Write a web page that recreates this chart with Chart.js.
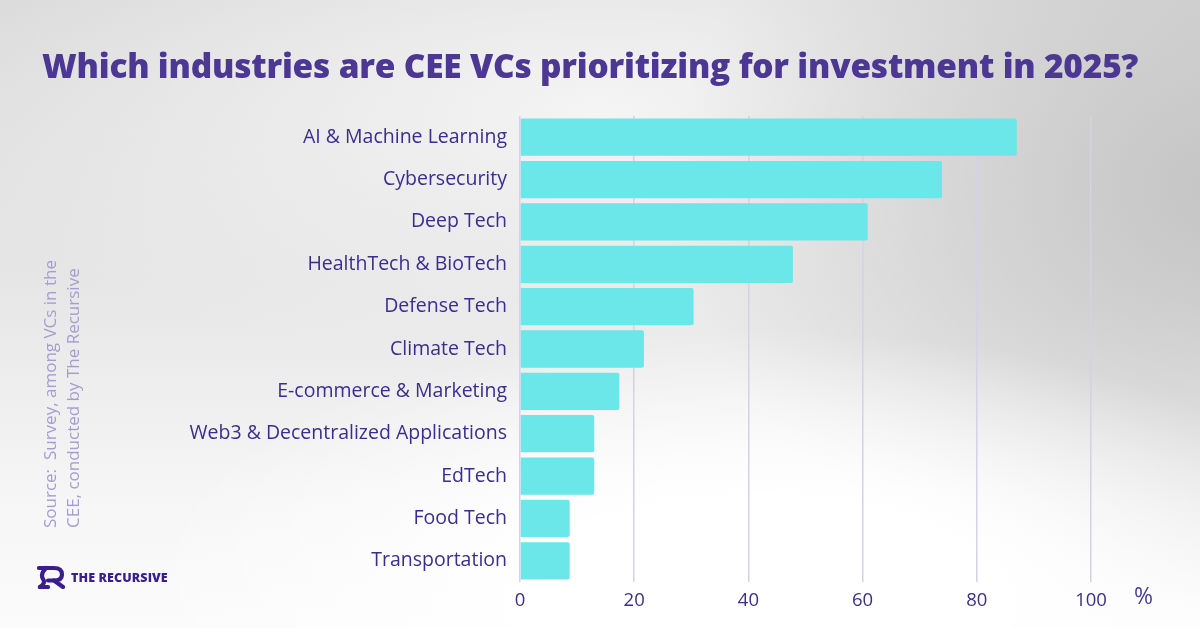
<!DOCTYPE html>
<html>
<head>
<meta charset="utf-8">
<script src="https://cdn.jsdelivr.net/npm/chart.js@4.4.1/dist/chart.umd.min.js"></script>
<style>
  html, body { margin: 0; padding: 0; }
  body {
    width: 1200px; height: 628px; overflow: hidden; position: relative;
    font-family: "Open Sans", sans-serif;
    background:
      radial-gradient(ellipse 620px 260px at 760px 590px, rgba(255,255,255,1) 35%, rgba(255,255,255,0) 100%),
      radial-gradient(ellipse 560px 420px at 1230px 190px, rgba(196,196,196,1) 0%, rgba(196,196,196,0) 100%),
      radial-gradient(ellipse 700px 260px at 600px 110px, rgba(244,244,244,1) 0%, rgba(244,244,244,0) 100%),
      linear-gradient(to bottom, #dadada 0%, #e6e6e6 45%, #f6f6f6 80%, #fbfbfb 100%);
  }
  #chart { position: absolute; left: 0; top: 0; }
  #title {
    position: absolute; left: 42px; top: 42px; white-space: nowrap;
    font-family: "Open Sans", sans-serif; font-weight: 800; font-size: 32px;
    color: #4c3893; letter-spacing: -0.2px;
  }
  #source {
    position: absolute; left: 38px; top: 528px; transform-origin: 0 0;
    transform: rotate(-90deg); white-space: nowrap;
    font-size: 17px; line-height: 23px; color: #a59dd2;
  }
  #pct {
    position: absolute; left: 1134px; top: 579px; font-size: 23px; color: #4a3b97;
  }
  #logo { position: absolute; left: 37px; top: 565px; display: flex; align-items: center; }
  #logo span {
    font-weight: 800; font-size: 12.5px; color: #3a1f8c; margin-left: 5px; letter-spacing: 0.1px;
  }
</style>
</head>
<body>
<canvas id="chart" width="1200" height="628"></canvas>
<div id="title">Which industries are CEE VCs prioritizing for investment in 2025?</div>
<div id="source">Source:&nbsp; Survey, among VCs in the<br>CEE, conducted by The Recursive</div>
<div id="pct">%</div>
<div id="logo">
  <svg width="29" height="24" viewBox="0 0 29 24">
    <path d="M2 3 H17 Q25 3 25 9.5 Q25 15.5 17 15.5 H11" fill="none" stroke="#3a1f8c" stroke-width="4.2" stroke-linecap="round" stroke-linejoin="round"/>
    <path d="M17 15.5 L26 22" fill="none" stroke="#3a1f8c" stroke-width="4.2" stroke-linecap="round"/>
    <path d="M9 3 Q3 9 6 14 Q9 18 3 22" fill="none" stroke="#3a1f8c" stroke-width="4.2" stroke-linecap="round" stroke-linejoin="round"/>
    <path d="M3 22 H11" fill="none" stroke="#3a1f8c" stroke-width="4.2" stroke-linecap="round"/>
  </svg>
  <span>THE RECURSIVE</span>
</div>
<script>
const categories = [
  "AI & Machine Learning",
  "Cybersecurity",
  "Deep Tech",
  "HealthTech & BioTech",
  "Defense Tech",
  "Climate Tech",
  "E-commerce & Marketing",
  "Web3 & Decentralized Applications",
  "EdTech",
  "Food Tech",
  "Transportation"
];
const shares = [87.0, 73.9, 60.9, 47.8, 30.4, 21.7, 17.4, 13.0, 13.0, 8.7, 8.7];
const xTicks = [0, 20, 40, 60, 80, 100];

// fit title width to the reference
(function () {
  const t = document.getElementById('title');
  const target = 1096;
  const w = t.getBoundingClientRect().width;
  t.style.fontSize = (32 * target / w).toFixed(2) + 'px';
})();

new Chart(document.getElementById('chart'), {
  type: 'bar',
  data: {
    labels: categories,
    datasets: [{
      data: shares,
      backgroundColor: '#6be6e9',
      borderRadius: 2,
      borderSkipped: 'start',
      categoryPercentage: 0.88,
      barPercentage: 1
    }]
  },
  options: {
    indexAxis: 'y',
    responsive: false,
    devicePixelRatio: 1,
    animation: false,
    layout: { padding: { top: 116, right: 109, bottom: 0, left: 0 } },
    plugins: { legend: { display: false }, tooltip: { enabled: false } },
    scales: {
      x: {
        min: 0, max: 100,
        afterBuildTicks: (s) => { s.ticks = xTicks.map(v => ({ value: v })); },
        afterFit: (s) => { s.height = 46; },
        ticks: { color: '#3d2f86', font: { family: 'Open Sans', size: 18.5 }, padding: 8 },
        grid: { color: '#d6d0e8', lineWidth: 1.5, drawTicks: false },
        border: { display: false }
      },
      y: {
        afterFit: (s) => { s.width = 520; },
        ticks: { color: '#3d2c8d', font: { family: 'Open Sans', size: 19.5 }, padding: 13 },
        grid: { display: false, drawTicks: false },
        border: { display: false }
      }
    }
  }
});
</script>
</body>
</html>
